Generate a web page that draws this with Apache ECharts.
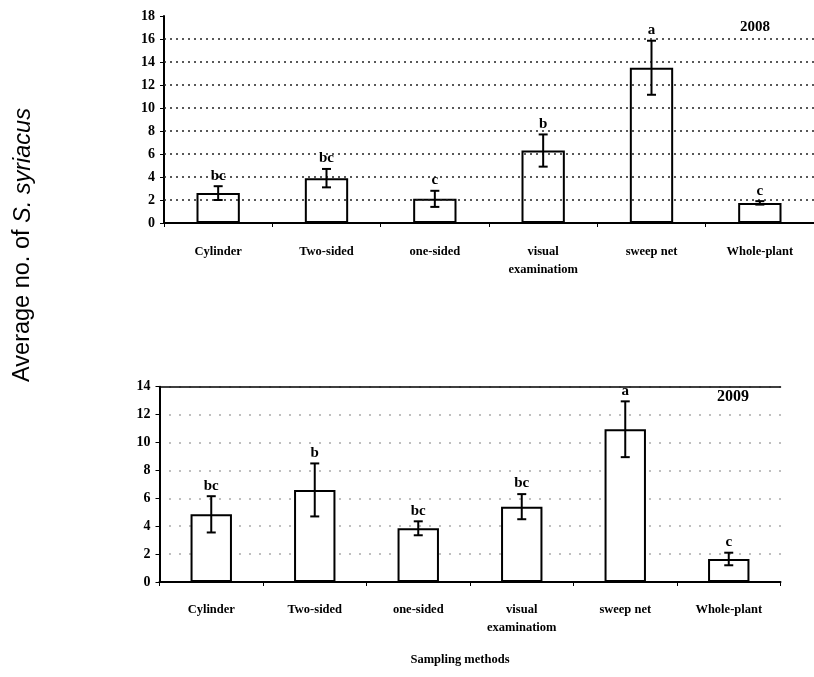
<!DOCTYPE html>
<html>
<head>
<meta charset="utf-8">
<script src="https://cdn.jsdelivr.net/npm/echarts@6/dist/echarts.min.js"></script>
<style>html,body{margin:0;padding:0;background:#fff}#c{width:814px;height:677px}</style>
</head>
<body>
<div id="c"></div>
<script>
const categories = ['Cylinder', 'Two-sided', 'one-sided', 'visual\nexaminatiom', 'sweep net', 'Whole-plant'];
const mean2008 = [2.6, 3.9, 2.1, 6.3, 13.5, 1.75];
const err2008 = [0.6, 0.8, 0.7, 1.4, 2.35, 0.15];
const letters2008 = ['bc', 'bc', 'c', 'b', 'a', 'c'];
const mean2009 = [4.85, 6.6, 3.85, 5.4, 10.95, 1.65];
const err2009 = [1.3, 1.9, 0.5, 0.9, 2.0, 0.45];
const letters2009 = ['bc', 'b', 'bc', 'bc', 'a', 'c'];
const grid2008 = [2, 4, 6, 8, 10, 12, 14, 16];

const serif = '"Liberation Serif", "DejaVu Serif", serif';
const chart = echarts.init(document.getElementById('c'));

function errData(means, errs) {
  return means.map((m, i) => [i, m - errs[i], m + errs[i]]);
}
function makeRender(letters) {
  return function (params, api) {
    const i = api.value(0);
    const lo = api.coord([i, api.value(1)]);
    const hi = api.coord([i, api.value(2)]);
    const cap = 4.5;
    return {
      type: 'group',
      children: [
        { type: 'line', shape: { x1: lo[0], y1: lo[1], x2: hi[0], y2: hi[1] }, style: { stroke: '#000', lineWidth: 2 } },
        { type: 'line', shape: { x1: lo[0] - cap, y1: lo[1], x2: lo[0] + cap, y2: lo[1] }, style: { stroke: '#000', lineWidth: 2 } },
        { type: 'line', shape: { x1: hi[0] - cap, y1: hi[1], x2: hi[0] + cap, y2: hi[1] }, style: { stroke: '#000', lineWidth: 2 } },
        { type: 'text', style: { text: letters[i], x: hi[0], y: hi[1] - 3, align: 'center', verticalAlign: 'bottom', font: 'bold 15px ' + serif, fill: '#000' } }
      ]
    };
  };
}

const axisLabelY = { color: '#000', fontFamily: serif, fontWeight: 'bold', fontSize: 14, margin: 9 };
const axisLabelX = { color: '#000', fontFamily: serif, fontWeight: 'bold', fontSize: 12.5, lineHeight: 18, interval: 0 };

chart.setOption({
  animation: false,
  backgroundColor: '#fff',
  grid: [
    { left: 164, top: 16, width: 655, bottom: 454 },
    { left: 159.5, top: 386.7, width: 621, bottom: 95 }
  ],
  xAxis: [
    { type: 'category', gridIndex: 0, data: categories,
      axisLine: { lineStyle: { color: '#000', width: 2 } },
      axisTick: { show: true, length: 4, lineStyle: { color: '#000' } },
      axisLabel: Object.assign({}, axisLabelX, { margin: 20 }) },
    { type: 'category', gridIndex: 1, data: categories,
      axisLine: { lineStyle: { color: '#000', width: 2 } },
      axisTick: { show: true, length: 4, lineStyle: { color: '#000' } },
      axisLabel: Object.assign({}, axisLabelX, { margin: 19 }) },
    { type: 'category', gridIndex: 1, data: categories, position: 'top',
      axisLine: { show: true, lineStyle: { color: '#000', width: 1.5 } },
      axisTick: { show: false }, axisLabel: { show: false } }
  ],
  yAxis: [
    { type: 'value', gridIndex: 0, min: 0, max: 18, interval: 2,
      axisLine: { show: true, lineStyle: { color: '#000', width: 2 } },
      axisTick: { show: true, length: 4, lineStyle: { color: '#000' } },
      splitLine: { show: false },
      axisLabel: axisLabelY },
    { type: 'value', gridIndex: 1, min: 0, max: 14, interval: 2,
      axisLine: { show: true, lineStyle: { color: '#000', width: 2 } },
      axisTick: { show: true, length: 4, lineStyle: { color: '#000' } },
      splitLine: { show: true, lineStyle: { color: '#555', type: [1, 9], width: 1.5 } },
      axisLabel: axisLabelY }
  ],
  series: [
    { type: 'bar', xAxisIndex: 0, yAxisIndex: 0, data: mean2008, barWidth: '40%',
      itemStyle: { color: '#fff', borderColor: '#000', borderWidth: 2 }, z: 3,
      markLine: { silent: true, symbol: 'none', label: { show: false },
        lineStyle: { color: '#222', type: [2, 4], width: 1.5 },
        data: grid2008.map(v => ({ yAxis: v })) } },
    { type: 'custom', xAxisIndex: 0, yAxisIndex: 0, data: errData(mean2008, err2008),
      renderItem: makeRender(letters2008), z: 5 },
    { type: 'bar', xAxisIndex: 1, yAxisIndex: 1, data: mean2009, barWidth: '40%',
      itemStyle: { color: '#fff', borderColor: '#000', borderWidth: 2 }, z: 3 },
    { type: 'custom', xAxisIndex: 1, yAxisIndex: 1, data: errData(mean2009, err2009),
      renderItem: makeRender(letters2009), z: 5 }
  ],
  graphic: [
    { type: 'text', left: 740, top: 20, style: { text: '2008', font: 'bold 15px ' + serif, fill: '#000' } },
    { type: 'text', left: 717, top: 389, style: { text: '2009', font: 'bold 16px ' + serif, fill: '#000' } },
    { type: 'text', x: 460, y: 660, style: { text: 'Sampling methods', font: 'bold 12.5px ' + serif, fill: '#000', align: 'center', verticalAlign: 'middle' } },
    { type: 'text', x: 23, y: 245, rotation: Math.PI / 2,
      style: { text: '{n|Average no. of }{i|S. syriacus}', align: 'center', verticalAlign: 'middle', fill: '#000',
        rich: { n: { fontFamily: '"Liberation Sans", Arial, sans-serif', fontSize: 23.5, fill: '#000', color: '#000' },
                i: { fontFamily: '"Liberation Sans", Arial, sans-serif', fontSize: 23.5, fontStyle: 'italic', fill: '#000', color: '#000' } } } }
  ]
});
</script>
</body>
</html>
